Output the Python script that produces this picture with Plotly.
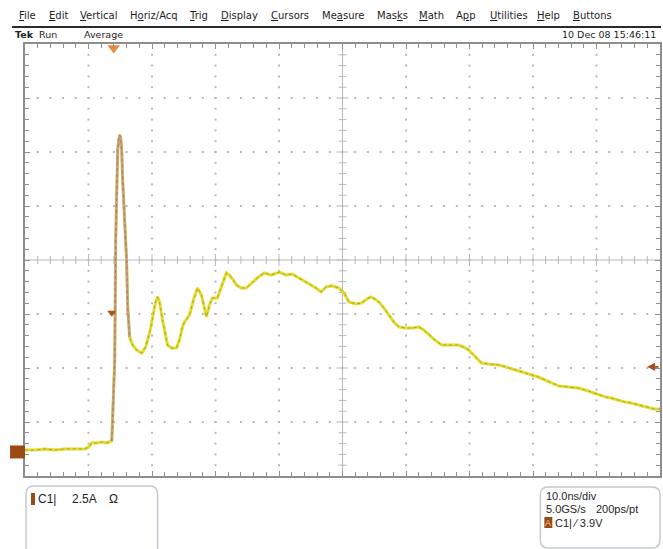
import plotly.graph_objects as go

# ---- Channel 1 acquisition (averaged), time from left of screen in ns, current in A ----
time_ns = [0, 1.6, 3.1, 4.7, 6.3, 7.9, 9.4, 10.05, 10.5, 11.3, 12.1, 12.9, 13.3, 13.66, 13.8,
           13.97, 14.13, 14.29, 14.44, 14.6, 14.76, 14.91, 15.07, 15.23, 15.38, 15.7, 16.0,
           16.17, 16.48, 16.95, 17.58, 18.37, 19.0, 19.62, 20.09, 20.57, 20.88, 21.19, 21.66,
           22.14, 22.45, 23.08, 23.86, 24.33, 24.8, 25.12, 25.9, 26.53, 27.16, 27.79, 28.26,
           28.57, 29.04, 29.51, 30.3, 30.93, 31.71, 32.18, 32.81, 33.28, 34.07, 34.85, 35.64,
           36.58, 37.68, 38.78, 40.03, 41.13, 42.07, 43.17, 44.27, 45.05, 45.84, 46.62, 47.41,
           48.35, 49.45, 50.24, 51.02, 52.12, 53.06, 53.85, 54.47, 55.1, 55.73, 56.51, 57.3,
           58.08, 58.87, 59.97, 61.07, 62.01, 62.79, 63.58, 64.52, 65.62, 66.72, 68.29, 69.07,
           69.86, 70.8, 71.9, 73.0, 74.57, 75.67, 77.24, 78.49, 79.75, 80.85, 81.95, 82.89,
           83.99, 85.56, 87.13, 88.23, 89.17, 90.27, 91.37, 92.31, 93.41, 94.51, 95.45, 96.55,
           98.12, 99.06, 100]
current_a = [0.09, 0.09, 0.14, 0.09, 0.14, 0.14, 0.14, 0.23, 0.42, 0.42, 0.46, 0.42, 0.46, 0.51,
             1.48, 2.87, 4.26, 9.95, 13.06, 13.98, 14.44, 14.68, 14.54, 13.98, 12.59, 10.74,
             8.89, 6.71, 5.32, 4.95, 4.72, 4.58, 4.86, 5.51, 6.20, 6.94, 7.18, 6.94, 6.11, 5.28,
             4.95, 4.81, 4.81, 5.19, 5.79, 6.02, 6.34, 7.04, 7.59, 7.27, 6.57, 6.25, 6.81, 7.13,
             7.13, 7.64, 8.29, 8.19, 7.96, 7.73, 7.59, 7.59, 7.82, 8.06, 8.29, 8.19, 8.33, 8.19,
             8.24, 8.06, 7.87, 7.73, 7.59, 7.41, 7.64, 7.69, 7.59, 7.36, 6.94, 6.85, 6.90, 7.08,
             7.18, 7.08, 6.94, 6.67, 6.34, 6.02, 5.79, 5.74, 5.74, 5.79, 5.65, 5.42, 5.19, 4.95,
             4.95, 4.95, 4.86, 4.72, 4.44, 4.12, 4.07, 4.03, 3.94, 3.80, 3.70, 3.56, 3.47, 3.33,
             3.19, 3.06, 3.01, 2.96, 2.87, 2.78, 2.64, 2.55, 2.50, 2.41, 2.31, 2.27, 2.18, 2.04,
             1.99, 1.99]

# ---- Scope settings ----
A_PER_DIV = 2.5
NS_PER_DIV = 10.0
H_DIVS, V_DIVS = 10, 8
GROUND_DIV = -3.555          # ground reference, divisions from screen centre
TRIG_POS_NS = 13.97          # trigger position marker
TRIG_LEVEL_A = 6.44          # trigger level marker on the trace
RIGHT_REF_A = 3.94           # reference arrow on right edge

x_min, x_max = 0.0, H_DIVS * NS_PER_DIV
y_min = (-V_DIVS / 2 - GROUND_DIV) * A_PER_DIV
y_max = (V_DIVS / 2 - GROUND_DIV) * A_PER_DIV
x_mid = (x_min + x_max) / 2
y_mid = (y_min + y_max) / 2

W, H = 663, 549
L, R, T, B = 25, 662, 44, 476   # graticule edges in pixels


def px(x):
    return (x - L) / (R - L)


def py(y):
    return (B - y) / (B - T)


GRID = "#b8b8b8"
BORDER = "#8e8e8e"
YELLOW = "#e2dc2a"
TAN = "#c9a084"
BROWN = "#9a4a14"

fig = go.Figure()

# ---- graticule dots on the division lines ----
minor_x = NS_PER_DIV / 5
minor_y = A_PER_DIV / 5
gx, gy = [], []
for k in range(1, H_DIVS):
    if k == H_DIVS // 2:
        continue
    for j in range(1, V_DIVS * 5):
        gx.append(x_min + k * NS_PER_DIV)
        gy.append(y_min + j * minor_y)
for k in range(1, V_DIVS):
    if k == V_DIVS // 2:
        continue
    for j in range(1, H_DIVS * 5):
        gx.append(x_min + j * minor_x)
        gy.append(y_min + k * A_PER_DIV)
fig.add_trace(go.Scatter(x=gx, y=gy, mode="markers", hoverinfo="skip",
                         marker=dict(symbol="square", size=2, color=GRID, line=dict(width=0))))

# ---- centre cross with minor tick marks ----
tx, ty = [], []
hy = 4 * A_PER_DIV / 54.0
hx = 4 * NS_PER_DIV / 63.7
for j in range(1, H_DIVS * 5):
    x = x_min + j * minor_x
    h = hy * (1.5 if j % 5 == 0 else 1.0)
    tx += [x, x, None]
    ty += [y_mid - h, y_mid + h, None]
for j in range(1, V_DIVS * 5):
    y = y_min + j * minor_y
    h = hx * (1.5 if j % 5 == 0 else 1.0)
    tx += [x_mid - h, x_mid + h, None]
    ty += [y, y, None]
tx += [x_min, x_max, None, x_mid, x_mid]
ty += [y_mid, y_mid, None, y_min, y_max]
fig.add_trace(go.Scatter(x=tx, y=ty, mode="lines", hoverinfo="skip",
                         line=dict(color=GRID, width=1)))

# ---- the waveform ----
fig.add_trace(go.Scatter(x=time_ns, y=current_a, mode="lines", hoverinfo="skip",
                         line=dict(color=YELLOW, width=3)))
i0, i1 = 13, 29
fig.add_trace(go.Scatter(x=time_ns[i0:i1], y=current_a[i0:i1], mode="lines", hoverinfo="skip",
                         line=dict(color=TAN, width=2.6)))
fig.add_trace(go.Scatter(x=time_ns, y=current_a, mode="lines", hoverinfo="skip",
                         line=dict(color="rgba(110,90,60,0.45)", width=1, dash="dot")))

# ---- trigger markers ----
fig.add_trace(go.Scatter(x=[TRIG_POS_NS], y=[y_max - 0.18], mode="markers", cliponaxis=False,
                         hoverinfo="skip",
                         marker=dict(symbol="triangle-down", size=11, color="#ea8a3a",
                                     line=dict(width=0))))
fig.add_trace(go.Scatter(x=[time_ns[13]], y=[TRIG_LEVEL_A], mode="markers", cliponaxis=False,
                         hoverinfo="skip",
                         marker=dict(symbol="triangle-down", size=8, color="#a8561c",
                                     line=dict(width=0))))

fig.update_xaxes(range=[x_min, x_max], showgrid=False, zeroline=False, showticklabels=False,
                 showline=True, linecolor=BORDER, linewidth=1.5, mirror="allticks",
                 ticks="inside", dtick=NS_PER_DIV, tick0=x_min, ticklen=5, tickcolor=BORDER,
                 minor=dict(dtick=minor_x, tick0=x_min, ticks="inside", ticklen=4,
                            tickcolor=BORDER, showgrid=False),
                 fixedrange=True)
fig.update_yaxes(range=[y_min, y_max], showgrid=False, zeroline=False, showticklabels=False,
                 showline=True, linecolor=BORDER, linewidth=1.5, mirror="allticks",
                 ticks="inside", dtick=A_PER_DIV, tick0=y_min, ticklen=5, tickcolor=BORDER,
                 minor=dict(dtick=minor_y, tick0=y_min, ticks="inside", ticklen=4,
                            tickcolor=BORDER, showgrid=False),
                 fixedrange=True)

# ---- shapes: menu rule, ground marker, readout boxes ----
shapes = []
shapes.append(dict(type="line", xref="paper", yref="paper", x0=px(12), x1=px(663),
                   y0=py(27), y1=py(27), line=dict(color="#2a2a2a", width=2)))
gnd_p = (0 - y_min) / (y_max - y_min)
shapes.append(dict(type="rect", xref="paper", yref="paper", x0=px(10), x1=px(25),
                   y0=gnd_p - 6.5 / (B - T), y1=gnd_p + 6.5 / (B - T),
                   fillcolor=BROWN, line=dict(width=0)))


def rounded_box(x0, y0, x1, y1, r=8):
    pts = [("M", x0 + r, y0), ("L", x1 - r, y0), ("Q", x1, y0, x1, y0 + r),
           ("L", x1, y1 - r), ("Q", x1, y1, x1 - r, y1), ("L", x0 + r, y1),
           ("Q", x0, y1, x0, y1 - r), ("L", x0, y0 + r), ("Q", x0, y0, x0 + r, y0)]
    parts = []
    for p in pts:
        cmd, vals = p[0], p[1:]
        coords = []
        for a in range(0, len(vals), 2):
            coords.append(f"{px(vals[a]):.5f},{py(vals[a + 1]):.5f}")
        parts.append(cmd + " " + " ".join(coords))
    return " ".join(parts) + " Z"


shapes.append(dict(type="path", xref="paper", yref="paper", path=rounded_box(26, 486, 158, 556),
                   line=dict(color="#c6c9d2", width=1.5)))
shapes.append(dict(type="path", xref="paper", yref="paper", path=rounded_box(542, 487, 662, 548),
                   line=dict(color="#c6c9d2", width=1.5)))
shapes.append(dict(type="rect", xref="paper", yref="paper", x0=px(31), x1=px(35),
                   y0=py(505), y1=py(493), fillcolor=BROWN, line=dict(width=0)))
shapes.append(dict(type="rect", xref="paper", yref="paper", x0=px(546), x1=px(554),
                   y0=py(528), y1=py(517), fillcolor=BROWN, line=dict(width=0)))

# ---- text ----
MENU_FONT = "DejaVu Sans"
READ_FONT = "Liberation Sans Narrow, Liberation Sans"
ann = []


def label(text, x, y, size=11, anchor="left", color="#1e1e1e", family=READ_FONT):
    ann.append(dict(text=text, xref="paper", yref="paper", x=px(x), y=py(y),
                    xanchor=anchor, yanchor="middle", showarrow=False,
                    font=dict(family=family, size=size, color=color)))


menu = [("<u>F</u>ile", 17), ("<u>E</u>dit", 47), ("<u>V</u>ertical", 78),
        ("H<u>o</u>riz/Acq", 128), ("<u>T</u>rig", 188), ("<u>D</u>isplay", 220),
        ("<u>C</u>ursors", 270), ("Me<u>a</u>sure", 321), ("Mas<u>k</u>s", 376),
        ("<u>M</u>ath", 418), ("A<u>p</u>p", 455), ("<u>U</u>tilities", 489),
        ("<u>H</u>elp", 537), ("<u>B</u>uttons", 573)]
for text, x in menu:
    label(text, x, 16, size=10, family=MENU_FONT)

label("<b>Tek</b>", 13, 34, size=9.5, family=MENU_FONT)
label("Run", 37, 34, size=9.5, family=MENU_FONT)
label("Average", 82, 34, size=9.5, family=MENU_FONT)
label("10 Dec 08 15:46:11", 660, 34, size=9.5, anchor="right", family=MENU_FONT)

label("C1|", 36, 499, size=12)
label("2.5A", 70, 499, size=12)
label("Ω", 107, 499, size=12)

label("10.0ns/div", 546, 496, size=11)
label("5.0GS/s", 546, 509, size=11)
label("200ps/pt", 596, 509, size=11)
label("A", 550, 523, size=9, anchor="center", color="#f0c8a8")
label("C1| ⁄ 3.9V", 555, 523, size=11)

# right-edge reference arrow
ann.append(dict(text="", xref="paper", yref="paper", x=px(649), y=(RIGHT_REF_A - y_min) / (y_max - y_min),
                ax=13, ay=0, showarrow=True, arrowhead=2, arrowsize=0.9, arrowwidth=1.8,
                arrowcolor="#a0521c"))

fig.update_layout(width=W, height=H, margin=dict(l=L, r=W - R, t=T, b=H - B),
                  paper_bgcolor="white", plot_bgcolor="white", showlegend=False,
                  shapes=shapes, annotations=ann)

fig.write_html("out.html")
